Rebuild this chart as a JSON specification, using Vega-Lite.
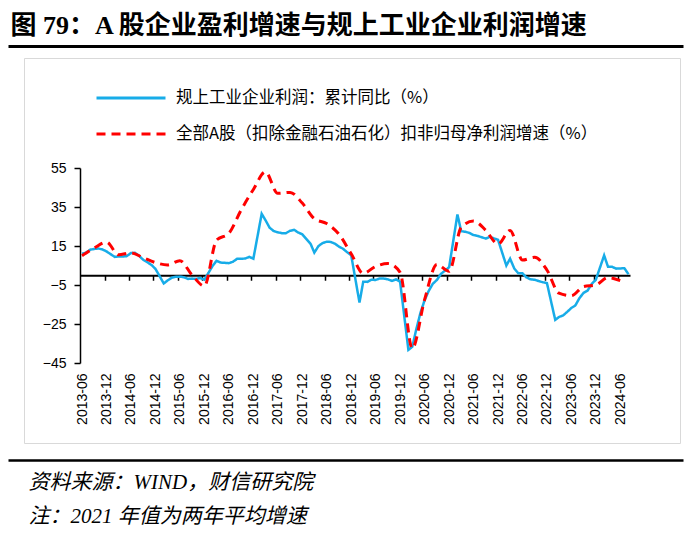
{
  "$schema": "https://vega.github.io/schema/vega-lite/v6.json",
  "width": 550,
  "height": 195,
  "autosize": {"type": "none"},
  "padding": {"left": 80, "top": 168, "right": 63, "bottom": 187},
  "background": "white",
  "config": {"view": {"stroke": null}, "axis": {"grid": false}},
  "datasets": {
    "blue": [
      {"date": "2013-06-01", "value": 11.1}, {"date": "2013-07-01", "value": 11.6}, {"date": "2013-08-01", "value": 13.1}, {"date": "2013-09-01", "value": 13.5}, {"date": "2013-10-01", "value": 13.7}, {"date": "2013-11-01", "value": 13.2}, {"date": "2013-12-01", "value": 12.2},
      {"date": "2014-02-01", "value": 9.4}, {"date": "2014-03-01", "value": 9.6}, {"date": "2014-04-01", "value": 9.6}, {"date": "2014-05-01", "value": 9.8}, {"date": "2014-06-01", "value": 11.4}, {"date": "2014-07-01", "value": 11.5}, {"date": "2014-08-01", "value": 10.0}, {"date": "2014-09-01", "value": 7.9}, {"date": "2014-10-01", "value": 6.7}, {"date": "2014-11-01", "value": 5.3}, {"date": "2014-12-01", "value": 3.3},
      {"date": "2015-02-01", "value": -4.2}, {"date": "2015-03-01", "value": -2.7}, {"date": "2015-04-01", "value": -1.3}, {"date": "2015-05-01", "value": -0.8}, {"date": "2015-06-01", "value": -0.7}, {"date": "2015-07-01", "value": -1.0}, {"date": "2015-08-01", "value": -1.9}, {"date": "2015-09-01", "value": -1.7}, {"date": "2015-10-01", "value": -1.9}, {"date": "2015-11-01", "value": -1.4}, {"date": "2015-12-01", "value": -2.3},
      {"date": "2016-02-01", "value": 4.8}, {"date": "2016-03-01", "value": 7.4}, {"date": "2016-04-01", "value": 6.5}, {"date": "2016-05-01", "value": 6.4}, {"date": "2016-06-01", "value": 6.2}, {"date": "2016-07-01", "value": 6.9}, {"date": "2016-08-01", "value": 8.4}, {"date": "2016-09-01", "value": 8.4}, {"date": "2016-10-01", "value": 8.6}, {"date": "2016-11-01", "value": 9.4}, {"date": "2016-12-01", "value": 8.5},
      {"date": "2017-02-01", "value": 31.5}, {"date": "2017-03-01", "value": 28.3}, {"date": "2017-04-01", "value": 24.4}, {"date": "2017-05-01", "value": 22.7}, {"date": "2017-06-01", "value": 22.0}, {"date": "2017-07-01", "value": 21.6}, {"date": "2017-08-01", "value": 21.6}, {"date": "2017-09-01", "value": 22.8}, {"date": "2017-10-01", "value": 23.3}, {"date": "2017-11-01", "value": 21.9}, {"date": "2017-12-01", "value": 21.0},
      {"date": "2018-02-01", "value": 16.1}, {"date": "2018-03-01", "value": 11.6}, {"date": "2018-04-01", "value": 15.0}, {"date": "2018-05-01", "value": 16.5}, {"date": "2018-06-01", "value": 17.2}, {"date": "2018-07-01", "value": 17.1}, {"date": "2018-08-01", "value": 16.2}, {"date": "2018-09-01", "value": 14.7}, {"date": "2018-10-01", "value": 13.6}, {"date": "2018-11-01", "value": 11.8}, {"date": "2018-12-01", "value": 10.3},
      {"date": "2019-02-01", "value": -14.0}, {"date": "2019-03-01", "value": -3.3}, {"date": "2019-04-01", "value": -3.4}, {"date": "2019-05-01", "value": -2.3}, {"date": "2019-06-01", "value": -2.4}, {"date": "2019-07-01", "value": -1.7}, {"date": "2019-08-01", "value": -1.7}, {"date": "2019-09-01", "value": -2.1}, {"date": "2019-10-01", "value": -2.9}, {"date": "2019-11-01", "value": -2.1}, {"date": "2019-12-01", "value": -3.3},
      {"date": "2020-02-01", "value": -38.3}, {"date": "2020-03-01", "value": -36.7}, {"date": "2020-04-01", "value": -27.4}, {"date": "2020-05-01", "value": -19.3}, {"date": "2020-06-01", "value": -12.8}, {"date": "2020-07-01", "value": -8.1}, {"date": "2020-08-01", "value": -4.4}, {"date": "2020-09-01", "value": -2.4}, {"date": "2020-10-01", "value": 0.7}, {"date": "2020-11-01", "value": 2.4}, {"date": "2020-12-01", "value": 4.1},
      {"date": "2021-02-01", "value": 31.2}, {"date": "2021-03-01", "value": 22.6}, {"date": "2021-04-01", "value": 22.3}, {"date": "2021-05-01", "value": 21.7}, {"date": "2021-06-01", "value": 20.6}, {"date": "2021-07-01", "value": 20.2}, {"date": "2021-08-01", "value": 19.5}, {"date": "2021-09-01", "value": 18.8}, {"date": "2021-10-01", "value": 19.7}, {"date": "2021-11-01", "value": 18.9}, {"date": "2021-12-01", "value": 18.2},
      {"date": "2022-02-01", "value": 5.0}, {"date": "2022-03-01", "value": 8.5}, {"date": "2022-04-01", "value": 3.5}, {"date": "2022-05-01", "value": 1.0}, {"date": "2022-06-01", "value": 1.0}, {"date": "2022-07-01", "value": -1.1}, {"date": "2022-08-01", "value": -2.1}, {"date": "2022-09-01", "value": -2.3}, {"date": "2022-10-01", "value": -3.0}, {"date": "2022-11-01", "value": -3.6}, {"date": "2022-12-01", "value": -4.0},
      {"date": "2023-02-01", "value": -22.9}, {"date": "2023-03-01", "value": -21.4}, {"date": "2023-04-01", "value": -20.6}, {"date": "2023-05-01", "value": -18.8}, {"date": "2023-06-01", "value": -16.8}, {"date": "2023-07-01", "value": -15.5}, {"date": "2023-08-01", "value": -11.7}, {"date": "2023-09-01", "value": -9.0}, {"date": "2023-10-01", "value": -7.8}, {"date": "2023-11-01", "value": -4.4}, {"date": "2023-12-01", "value": -2.3},
      {"date": "2024-02-01", "value": 10.2}, {"date": "2024-03-01", "value": 4.3}, {"date": "2024-04-01", "value": 4.3}, {"date": "2024-05-01", "value": 3.4}, {"date": "2024-06-01", "value": 3.5}, {"date": "2024-07-01", "value": 3.6}, {"date": "2024-08-01", "value": 0.5}
    ],
    "red": [
      {"date": "2013-06-01", "value": 10}, {"date": "2013-09-01", "value": 14}, {"date": "2013-12-01", "value": 17},
      {"date": "2014-03-01", "value": 10.5}, {"date": "2014-06-01", "value": 11.5}, {"date": "2014-09-01", "value": 9}, {"date": "2014-12-01", "value": 6.5},
      {"date": "2015-03-01", "value": 5.3}, {"date": "2015-06-01", "value": 7.5}, {"date": "2015-09-01", "value": 0}, {"date": "2015-12-01", "value": -5.5},
      {"date": "2016-03-01", "value": 18}, {"date": "2016-06-01", "value": 21.5}, {"date": "2016-09-01", "value": 33.5}, {"date": "2016-12-01", "value": 44},
      {"date": "2017-03-01", "value": 53}, {"date": "2017-06-01", "value": 42}, {"date": "2017-09-01", "value": 42.5}, {"date": "2017-12-01", "value": 37},
      {"date": "2018-03-01", "value": 29}, {"date": "2018-06-01", "value": 26.5}, {"date": "2018-09-01", "value": 21}, {"date": "2018-12-01", "value": 11},
      {"date": "2019-03-01", "value": 1}, {"date": "2019-06-01", "value": 4.5}, {"date": "2019-09-01", "value": 6}, {"date": "2019-12-01", "value": 1.5},
      {"date": "2020-03-01", "value": -37.5}, {"date": "2020-06-01", "value": -12.5}, {"date": "2020-09-01", "value": 5.5}, {"date": "2020-12-01", "value": 2},
      {"date": "2021-03-01", "value": 24.5}, {"date": "2021-06-01", "value": 27.8}, {"date": "2021-09-01", "value": 23}, {"date": "2021-12-01", "value": 16},
      {"date": "2022-03-01", "value": 23}, {"date": "2022-06-01", "value": 7.8}, {"date": "2022-09-01", "value": 9.2}, {"date": "2022-12-01", "value": 2.7},
      {"date": "2023-03-01", "value": -9.2}, {"date": "2023-06-01", "value": -10.5}, {"date": "2023-09-01", "value": -5.8}, {"date": "2023-12-01", "value": -5},
      {"date": "2024-03-01", "value": -1.2}, {"date": "2024-06-01", "value": -2.8}
    ]
  },
  "layer": [
    {
      "data": {"name": "blue"},
      "transform": [{"calculate": "'a'", "as": "s"}],
      "mark": {"type": "line", "strokeWidth": 2.5, "interpolate": "linear"},
      "encoding": {
        "x": {
          "field": "date", "type": "temporal",
          "scale": {"type": "utc", "domain": [{"year": 2013, "month": 5, "date": 17, "utc": true}, {"year": 2024, "month": 8, "date": 12, "utc": true}]},
          "axis": {
            "orient": "bottom", "title": null, "format": "%Y-%m", "labelAngle": -90, "labelFont": "Liberation Sans", "labelFontSize": 14, "labelColor": "#000",
            "labelPadding": 10, "ticks": false, "domain": false, "grid": false, "labelOverlap": false, "labelFlush": false,
            "values": [
              {"year": 2013, "month": 6, "date": 1, "utc": true}, {"year": 2013, "month": 12, "date": 1, "utc": true},
              {"year": 2014, "month": 6, "date": 1, "utc": true}, {"year": 2014, "month": 12, "date": 1, "utc": true},
              {"year": 2015, "month": 6, "date": 1, "utc": true}, {"year": 2015, "month": 12, "date": 1, "utc": true},
              {"year": 2016, "month": 6, "date": 1, "utc": true}, {"year": 2016, "month": 12, "date": 1, "utc": true},
              {"year": 2017, "month": 6, "date": 1, "utc": true}, {"year": 2017, "month": 12, "date": 1, "utc": true},
              {"year": 2018, "month": 6, "date": 1, "utc": true}, {"year": 2018, "month": 12, "date": 1, "utc": true},
              {"year": 2019, "month": 6, "date": 1, "utc": true}, {"year": 2019, "month": 12, "date": 1, "utc": true},
              {"year": 2020, "month": 6, "date": 1, "utc": true}, {"year": 2020, "month": 12, "date": 1, "utc": true},
              {"year": 2021, "month": 6, "date": 1, "utc": true}, {"year": 2021, "month": 12, "date": 1, "utc": true},
              {"year": 2022, "month": 6, "date": 1, "utc": true}, {"year": 2022, "month": 12, "date": 1, "utc": true},
              {"year": 2023, "month": 6, "date": 1, "utc": true}, {"year": 2023, "month": 12, "date": 1, "utc": true},
              {"year": 2024, "month": 6, "date": 1, "utc": true}
            ]
          }
        },
        "y": {
          "field": "value", "type": "quantitative",
          "scale": {"domain": [-45, 55], "nice": false, "zero": false},
          "axis": {"orient": "left", "values": [-45, -25, -5, 15, 35, 55], "title": null, "domainColor": "#000", "domainWidth": 1.5, "tickColor": "#000", "tickWidth": 1.5, "tickSize": 6, "labelPadding": 8, "labelFont": "Liberation Sans", "labelFontSize": 14, "labelColor": "#000", "labelOverlap": false, "labelFlush": false, "grid": false}
        },
        "color": {
          "field": "s", "type": "nominal",
          "scale": {"domain": ["a", "b"], "range": ["#17ACE8", "#FF0000"]},
          "legend": {"title": null, "orient": "none", "legendX": 38, "legendY": -83, "padding": 0, "labelLimit": 600,
            "labelExpr": "datum.value == 'a' ? '规上工业企业利润：累计同比（%）' : '全部A股（扣除金融石油石化）扣非归母净利润增速（%）'",
            "labelFont": "Noto Sans CJK SC", "labelFontSize": 16.5, "labelColor": "#000", "symbolType": "M-3,0H3", "symbolSize": 529, "symbolStrokeWidth": 3, "rowPadding": 14, "labelOffset": 32}
        },
        "strokeDash": {
          "field": "s", "type": "nominal",
          "scale": {"domain": ["a", "b"], "range": [[1, 0], [9, 6]]},
          "legend": {"title": null, "orient": "none", "legendX": 38, "legendY": -83, "padding": 0, "labelLimit": 600,
            "labelExpr": "datum.value == 'a' ? '规上工业企业利润：累计同比（%）' : '全部A股（扣除金融石油石化）扣非归母净利润增速（%）'",
            "labelFont": "Noto Sans CJK SC", "labelFontSize": 16.5, "labelColor": "#000", "symbolType": "M-3,0H3", "symbolSize": 529, "symbolStrokeWidth": 3, "rowPadding": 14, "labelOffset": 32}
        }
      }
    },
    {
      "data": {"name": "red"},
      "transform": [{"calculate": "'b'", "as": "s"}],
      "mark": {"type": "line", "strokeWidth": 3, "interpolate": "monotone"},
      "encoding": {
        "x": {
          "field": "date", "type": "temporal",
          "scale": {"type": "utc", "domain": [{"year": 2013, "month": 5, "date": 17, "utc": true}, {"year": 2024, "month": 8, "date": 12, "utc": true}]},
          "axis": {
            "orient": "bottom", "offset": -87.75, "title": null, "labels": false, "grid": false,
            "domain": true, "domainColor": "#000", "domainWidth": 2, "ticks": true, "tickColor": "#000", "tickWidth": 1.5, "tickSize": 5,
            "values": [
              {"year": 2013, "month": 11, "date": 16, "utc": true},
              {"year": 2014, "month": 5, "date": 16, "utc": true}, {"year": 2014, "month": 11, "date": 16, "utc": true},
              {"year": 2015, "month": 5, "date": 16, "utc": true}, {"year": 2015, "month": 11, "date": 16, "utc": true},
              {"year": 2016, "month": 5, "date": 16, "utc": true}, {"year": 2016, "month": 11, "date": 16, "utc": true},
              {"year": 2017, "month": 5, "date": 16, "utc": true}, {"year": 2017, "month": 11, "date": 16, "utc": true},
              {"year": 2018, "month": 5, "date": 16, "utc": true}, {"year": 2018, "month": 11, "date": 16, "utc": true},
              {"year": 2019, "month": 5, "date": 16, "utc": true}, {"year": 2019, "month": 11, "date": 16, "utc": true},
              {"year": 2020, "month": 5, "date": 16, "utc": true}, {"year": 2020, "month": 11, "date": 16, "utc": true},
              {"year": 2021, "month": 5, "date": 16, "utc": true}, {"year": 2021, "month": 11, "date": 16, "utc": true},
              {"year": 2022, "month": 5, "date": 16, "utc": true}, {"year": 2022, "month": 11, "date": 16, "utc": true},
              {"year": 2023, "month": 5, "date": 16, "utc": true}, {"year": 2023, "month": 11, "date": 16, "utc": true},
              {"year": 2024, "month": 5, "date": 16, "utc": true}
            ]
          }
        },
        "y": {"field": "value", "type": "quantitative", "scale": {"domain": [-45, 55], "nice": false, "zero": false}, "axis": null},
        "color": {"field": "s", "type": "nominal"},
        "strokeDash": {"field": "s", "type": "nominal"}
      }
    },
    {
      "data": {"name": "blue"},
      "mark": {"type": "point", "opacity": 0},
      "encoding": {
        "x": {
          "field": "date", "type": "temporal",
          "scale": {"type": "utc", "domain": [{"year": 2013, "month": 5, "date": 17, "utc": true}, {"year": 2024, "month": 8, "date": 12, "utc": true}], "range": [-72, 603]},
          "axis": {
            "orient": "top", "offset": 122, "labels": false, "ticks": false, "grid": false,
            "domain": true, "domainColor": "#000", "domainWidth": 3,
            "title": "图 79：A 股企业盈利增速与规上工业企业利润增速",
            "titleX": -70, "titleY": -21, "titleAlign": "left", "titleBaseline": "middle", "titleAngle": 0,
            "titleFont": "Liberation Serif, Noto Sans CJK SC", "titleFontSize": 26, "titleFontWeight": "bold", "titleColor": "#000"
          }
        }
      }
    },
    {
      "data": {"name": "blue"},
      "mark": {"type": "point", "opacity": 0},
      "encoding": {
        "x": {
          "field": "date", "type": "temporal",
          "scale": {"type": "utc", "domain": [{"year": 2013, "month": 5, "date": 17, "utc": true}, {"year": 2024, "month": 8, "date": 12, "utc": true}], "range": [-72, 603]},
          "axis": {
            "orient": "bottom", "offset": 97, "labels": false, "ticks": false, "grid": false,
            "domain": true, "domainColor": "#000", "domainWidth": 2.5,
            "title": ["资料来源：WIND，财信研究院", "注：2021 年值为两年平均增速"],
            "titleX": -52, "titleY": 28, "titleAlign": "left", "titleBaseline": "alphabetic", "titleAngle": 0, "titleLineHeight": 34,
            "titleFont": "Liberation Serif, Noto Sans CJK SC", "titleFontSize": 21, "titleFontStyle": "italic", "titleFontWeight": "normal", "titleColor": "#000"
          }
        }
      }
    },
    {
      "data": {"name": "blue"},
      "mark": {"type": "point", "opacity": 0},
      "encoding": {
        "x": {
          "field": "date", "type": "temporal",
          "scale": {"type": "utc", "domain": [{"year": 2013, "month": 5, "date": 17, "utc": true}, {"year": 2024, "month": 8, "date": 12, "utc": true}], "range": [-56, 600]},
          "axis": {"orient": "top", "offset": 110, "labels": false, "ticks": false, "grid": false, "title": null, "domain": true, "domainColor": "#D9D9D9", "domainWidth": 1}
        },
        "y": {
          "field": "value", "type": "quantitative",
          "scale": {"domain": [-45, 55], "nice": false, "zero": false, "range": [275, -110]},
          "axis": {"orient": "left", "offset": 56, "labels": false, "ticks": false, "grid": false, "title": null, "domain": true, "domainColor": "#D9D9D9", "domainWidth": 1}
        }
      }
    },
    {
      "data": {"name": "blue"},
      "mark": {"type": "point", "opacity": 0},
      "encoding": {
        "x": {
          "field": "date", "type": "temporal",
          "scale": {"type": "utc", "domain": [{"year": 2013, "month": 5, "date": 17, "utc": true}, {"year": 2024, "month": 8, "date": 12, "utc": true}], "range": [-56, 600]},
          "axis": {"orient": "bottom", "offset": 80, "labels": false, "ticks": false, "grid": false, "title": null, "domain": true, "domainColor": "#D9D9D9", "domainWidth": 1}
        },
        "y": {
          "field": "value", "type": "quantitative",
          "scale": {"domain": [-45, 55], "nice": false, "zero": false, "range": [275, -110]},
          "axis": {"orient": "right", "offset": 50, "labels": false, "ticks": false, "grid": false, "title": null, "domain": true, "domainColor": "#D9D9D9", "domainWidth": 1}
        }
      }
    }
  ],
  "resolve": {"scale": {"x": "independent", "y": "independent"}}
}
